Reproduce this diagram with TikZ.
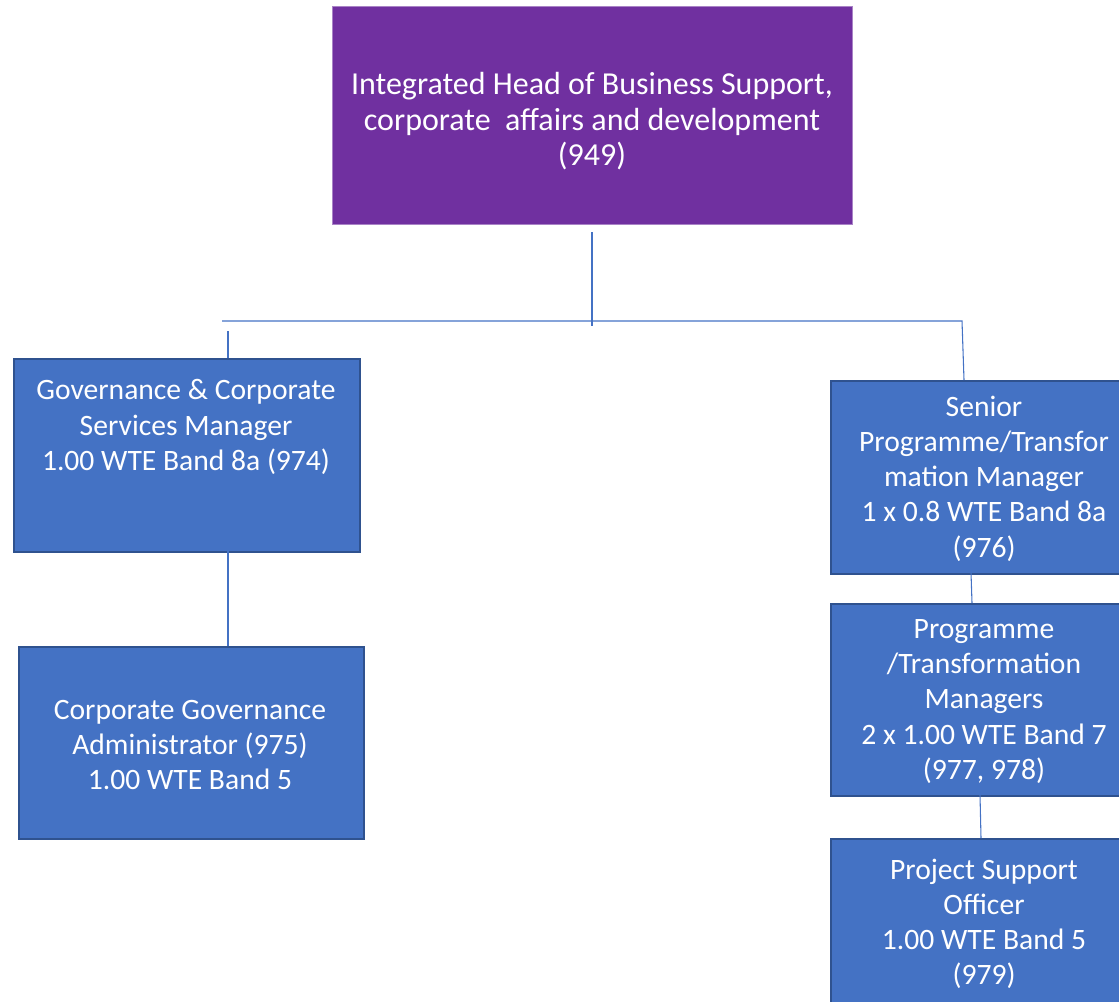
\documentclass[tikz,border=0pt]{standalone}
\usepackage{fontspec}
\setmainfont{Carlito}
\definecolor{hdpurple}{RGB}{112,48,160}
\definecolor{bxblue}{RGB}{68,114,196}
\definecolor{bxedge}{RGB}{47,82,143}
\definecolor{lnblue}{RGB}{68,114,196}
\begin{document}
\begin{tikzpicture}[x=0.75pt,y=-0.75pt,
  headbox/.style={rectangle,fill=hdpurple,draw=hdpurple!60!white,line width=0.5pt,inner sep=0pt,anchor=north west},
  bluebox/.style={rectangle,fill=bxblue,draw=bxedge,line width=1.3pt,inner sep=0pt,anchor=north west},
  lbl/.style={text=white,align=center,inner sep=0pt,font=\fontsize{22.2}{26.4}\selectfont},
  hlbl/.style={lbl,font=\fontsize{24}{26.6}\selectfont},
  conn/.style={draw=lnblue,line width=0.8pt}]
\clip (0,0) rectangle (1119,1001);
\useasboundingbox (0,0) rectangle (1119,1001);
% boxes
\node[headbox,minimum width=520*0.75pt,minimum height=218*0.75pt] (head) at (332,6) {};
\node[bluebox,minimum width=346*0.75pt,minimum height=193*0.75pt] (gov) at (13,358) {};
\node[bluebox,minimum width=345*0.75pt,minimum height=192*0.75pt] (adm) at (18,646) {};
\node[bluebox,minimum width=310*0.75pt,minimum height=193*0.75pt] (sen) at (830,380) {};
\node[bluebox,minimum width=310*0.75pt,minimum height=192*0.75pt] (prg) at (830,603) {};
\node[bluebox,minimum width=310*0.75pt,minimum height=200*0.75pt] (prj) at (830,838) {};
% labels
\node[hlbl] (headt) at (592,121.5) {Integrated Head of Business Support,\\corporate\ \ affairs and development\\(949)};
\node[lbl] (govt) at (186,427) {Governance \& Corporate\\Services Manager\\1.00 WTE Band 8a (974)};
\node[lbl] (admt) at (190,745) {Corporate Governance\\Administrator (975)\\1.00 WTE Band 5};
\node[lbl] (sent) at (984,478.5) {Senior\\Programme/Transfor\\mation Manager\\1 x 0.8 WTE Band 8a\\(976)};
\node[lbl] (prgt) at (984,701.5) {Programme\\/Transformation\\Managers\\2 x 1.00 WTE Band 7\\(977, 978)};
\node[lbl] (prjt) at (984,924) {Project Support\\Officer\\1.00 WTE Band 5\\(979)};
% connector points
\coordinate (h1) at (592,232);
\coordinate (h2) at (592,326);
\coordinate (busL) at (222,321);
\coordinate (busR) at (962,321);
\coordinate (gl) at (228,331);
\coordinate (gb) at (228,358);
\coordinate (sb) at (964,380);
\coordinate (g2) at (228,551);
\coordinate (a1) at (228,646);
\coordinate (s2) at (971,573);
\coordinate (p1) at (972,603);
\coordinate (p2) at (980,795);
\coordinate (j1) at (981,838);
% connectors
\draw[conn] (h1) -- (h2);
\draw[conn] (busL) -- (busR) -- (sb);
\draw[conn] (gl) -- (gb);
\draw[conn] (g2) -- (a1);
\draw[conn] (s2) -- (p1);
\draw[conn] (p2) -- (j1);
\end{tikzpicture}
\end{document}
